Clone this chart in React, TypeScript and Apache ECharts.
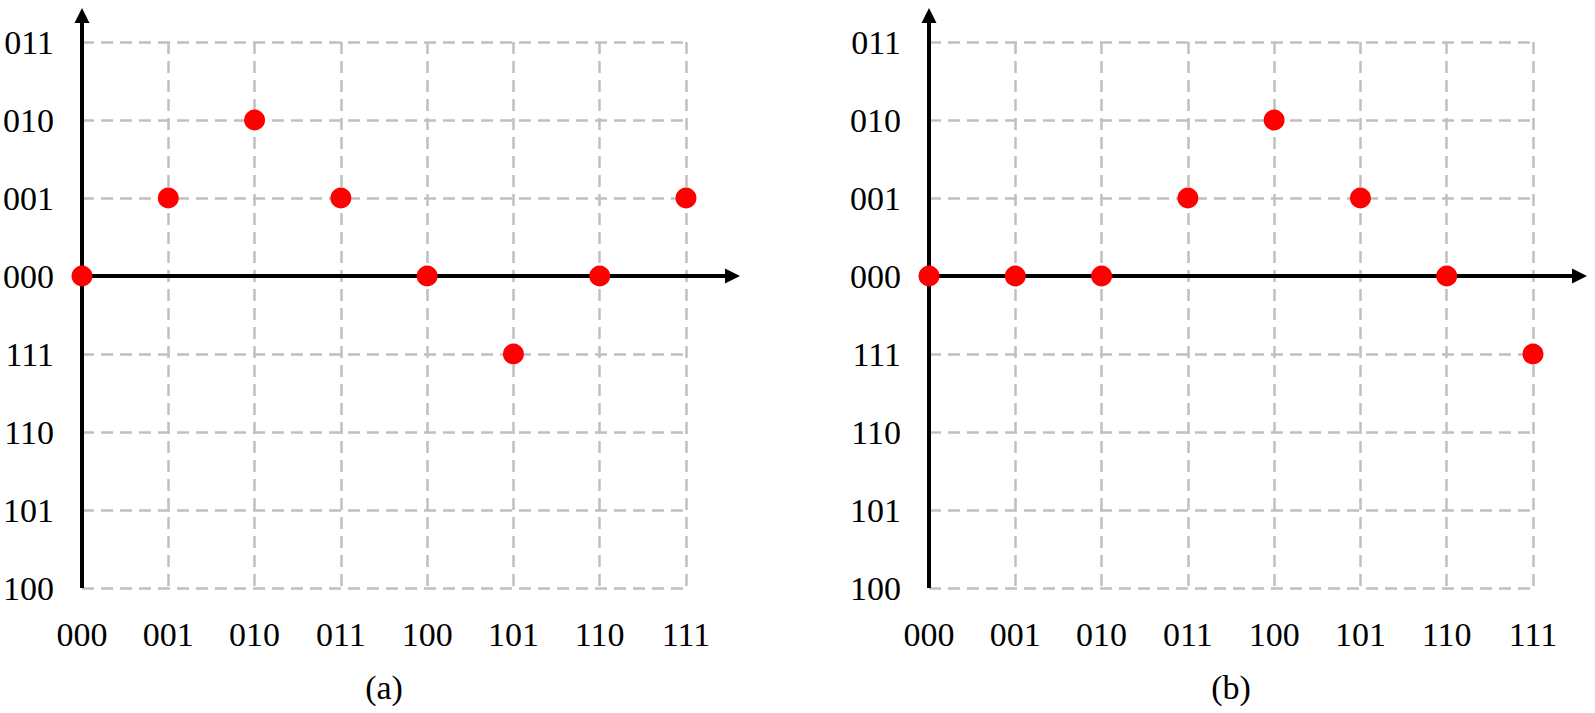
import React, { useEffect, useRef } from "react";
import * as echarts from "echarts";

const xTickLabels = ["000", "001", "010", "011", "100", "101", "110", "111"];
// y value -4..3 mapped to labels
const yTickLabels = ["100", "101", "110", "111", "000", "001", "010", "011"];
const yMin = -4;
const yMax = 3;
const xValues = [0, 1, 2, 3, 4, 5, 6, 7];
const seriesA = [0, 1, 2, 1, 0, -1, 0, 1];
const seriesB = [0, 0, 0, 1, 2, 1, 0, -1];
const panelNames = ["(a)", "(b)"];

export default function App() {
  const ref = useRef<HTMLDivElement>(null);
  useEffect(() => {
    if (!ref.current) return;
    const chart = echarts.init(ref.current, null, { renderer: "svg" });
    const font = "Liberation Serif";
    const grids = [
      { left: 82, top: 42, width: 604, height: 546 },
      { left: 929, top: 42, width: 604, height: 546 },
    ];
    const splitStyle = { color: "#c0c0c0", width: 2.5, type: [12, 7] as any };
    const xAxis = grids.map((_, i) => ({
      type: "value",
      gridIndex: i,
      min: 0,
      max: 7,
      interval: 1,
      axisLine: { show: false, onZero: false },
      axisTick: { show: false },
      splitLine: { show: true, lineStyle: splitStyle },
      axisLabel: {
        formatter: (v: number) => xTickLabels[Math.round(v)] ?? "",
        fontFamily: font,
        fontSize: 34,
        color: "#000",
        margin: 29,
      },
      name: panelNames[i],
      nameLocation: "middle",
      nameGap: 82,
      nameTextStyle: { fontFamily: font, fontSize: 34, color: "#000" },
    }));
    const yAxis = grids.map((_, i) => ({
      type: "value",
      gridIndex: i,
      min: yMin,
      max: yMax,
      interval: 1,
      axisLine: { show: false, onZero: false },
      axisTick: { show: false },
      splitLine: { show: true, lineStyle: splitStyle },
      axisLabel: {
        formatter: (v: number) => yTickLabels[Math.round(v) - yMin] ?? "",
        fontFamily: font,
        fontSize: 34,
        color: "#000",
        margin: 28,
      },
    }));
    const makeData = (ys: number[]) => xValues.map((x, k) => [x, ys[k]]);
    const series = [seriesA, seriesB].map((ys, i) => ({
      type: "scatter",
      xAxisIndex: i,
      yAxisIndex: i,
      data: makeData(ys),
      symbolSize: 21,
      itemStyle: { color: "#ff0000", opacity: 1 },
      z: 5,
    }));
    chart.setOption({
      animation: false,
      backgroundColor: "#ffffff",
      grid: grids,
      xAxis,
      yAxis,
      series,
    });

    // axis lines with arrows, positioned through the chart's own scales
    const graphic: any[] = [];
    grids.forEach((_, i) => {
      const o = chart.convertToPixel({ gridIndex: i }, [0, 0]) as number[];
      const top = chart.convertToPixel({ gridIndex: i }, [0, yMax]) as number[];
      const bot = chart.convertToPixel({ gridIndex: i }, [0, yMin]) as number[];
      const right = chart.convertToPixel({ gridIndex: i }, [7, 0]) as number[];
      const yTip = top[1] - 34;
      const xTip = right[0] + 54;
      const head = 15;
      const half = 7.5;
      graphic.push(
        {
          type: "line",
          shape: { x1: o[0], y1: bot[1], x2: o[0], y2: yTip + head - 1 },
          style: { stroke: "#000", lineWidth: 4 },
          z: 3,
        },
        {
          type: "polygon",
          shape: {
            points: [
              [o[0] - half, yTip + head],
              [o[0] + half, yTip + head],
              [o[0], yTip],
            ],
          },
          style: { fill: "#000" },
          z: 3,
        },
        {
          type: "line",
          shape: { x1: o[0], y1: o[1], x2: xTip - head + 1, y2: o[1] },
          style: { stroke: "#000", lineWidth: 4 },
          z: 3,
        },
        {
          type: "polygon",
          shape: {
            points: [
              [xTip - head, o[1] - half],
              [xTip - head, o[1] + half],
              [xTip, o[1]],
            ],
          },
          style: { fill: "#000" },
          z: 3,
        }
      );
    });
    chart.setOption({ graphic });
    return () => chart.dispose();
  }, []);
  return (
    <div
      ref={ref}
      style={{ position: "fixed", left: 0, top: 0, width: 1595, height: 713, background: "#fff" }}
    />
  );
}
